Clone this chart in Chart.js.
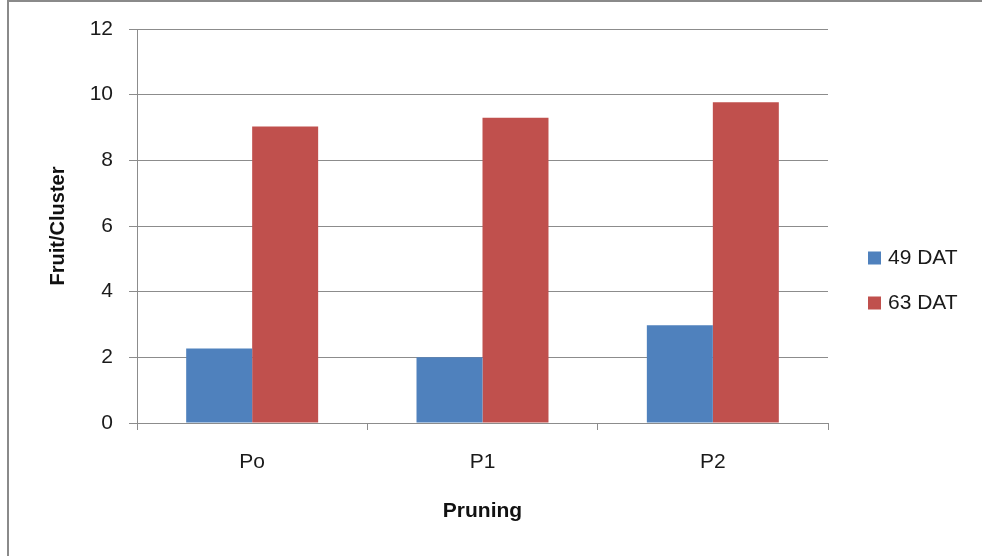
<!DOCTYPE html>
<html>
<head>
<meta charset="utf-8">
<script src="https://cdn.jsdelivr.net/npm/chart.js@4/dist/chart.umd.min.js"></script>
<style>
  html, body { margin: 0; padding: 0; background: #fff; }
  #wrap { position: relative; width: 982px; height: 556px; overflow: hidden; }
  #frame { position: absolute; left: 7px; top: 0; width: 990px; height: 570px;
           border-left: 2px solid #8a8a8a; border-top: 2px solid #8a8a8a; pointer-events: none; }
  canvas { display: block; }
</style>
</head>
<body>
<div id="wrap">
  <canvas id="c" width="982" height="556"></canvas>
  <div id="frame"></div>
</div>
<script>
// Fruit per cluster by pruning treatment, two sampling dates
const categories = ['Po', 'P1', 'P2'];
const seriesNames = ['49 DAT', '63 DAT'];
const dat49 = [2.27, 2.0, 2.98];
const dat63 = [9.03, 9.3, 9.77];
const yTicks = [0, 2, 4, 6, 8, 10, 12];

const FONT = "'Liberation Sans', Arial, sans-serif";
const BLUE = '#4F81BD';
const RED = '#C0504D';
const GRID = '#8c8c8c';

// Legend drawn at the right of the plot
const sideLegend = {
  id: 'sideLegend',
  afterDraw(chart) {
    const ctx = chart.ctx;
    ctx.save();
    ctx.font = '21px ' + FONT;
    ctx.textBaseline = 'middle';
    ctx.textAlign = 'left';
    chart.data.datasets.forEach((ds, i) => {
      const cy = 258 + i * 45;
      ctx.fillStyle = ds.backgroundColor;
      ctx.fillRect(868, cy - 6.5, 13, 13);
      ctx.fillStyle = '#1a1a1a';
      ctx.fillText(ds.label, 888, cy);
    });
    ctx.restore();
  }
};

new Chart(document.getElementById('c'), {
  type: 'bar',
  data: {
    labels: categories,
    datasets: [
      { label: seriesNames[0], data: dat49, backgroundColor: BLUE },
      { label: seriesNames[1], data: dat63, backgroundColor: RED }
    ]
  },
  options: {
    responsive: false,
    animation: false,
    devicePixelRatio: 1,
    layout: { padding: { left: 9, top: 29, right: 154, bottom: 0 } },
    datasets: { bar: { categoryPercentage: 0.573, barPercentage: 1.0 } },
    plugins: { legend: { display: false }, tooltip: { enabled: false } },
    scales: {
      x: {
        offset: true,
        grid: { offset: true, drawOnChartArea: false, drawTicks: true, tickLength: 7, color: GRID },
        border: { display: true, color: GRID, width: 1 },
        ticks: { color: '#1a1a1a', font: { family: FONT, size: 21 }, padding: 20 },
        title: { display: true, text: 'Pruning', color: '#111',
                 font: { family: FONT, size: 21, weight: 'bold' }, padding: { top: 0, bottom: 32 } },
        afterFit(scale) { scale.height = 133; }
      },
      y: {
        min: 0, max: 12,
        afterBuildTicks(scale) { scale.ticks = yTicks.map(v => ({ value: v })); },
        grid: { color: GRID, drawTicks: true, tickLength: 8 },
        border: { display: true, color: GRID, width: 1 },
        ticks: { color: '#1a1a1a', font: { family: FONT, size: 21 }, padding: 16 },
        title: { display: true, text: 'Fruit/Cluster', color: '#111',
                 font: { family: FONT, size: 20, weight: 'bold' }, padding: { top: 37, bottom: 0 } },
        afterFit(scale) { scale.width = 128; }
      }
    }
  },
  plugins: [sideLegend]
});
</script>
</body>
</html>
